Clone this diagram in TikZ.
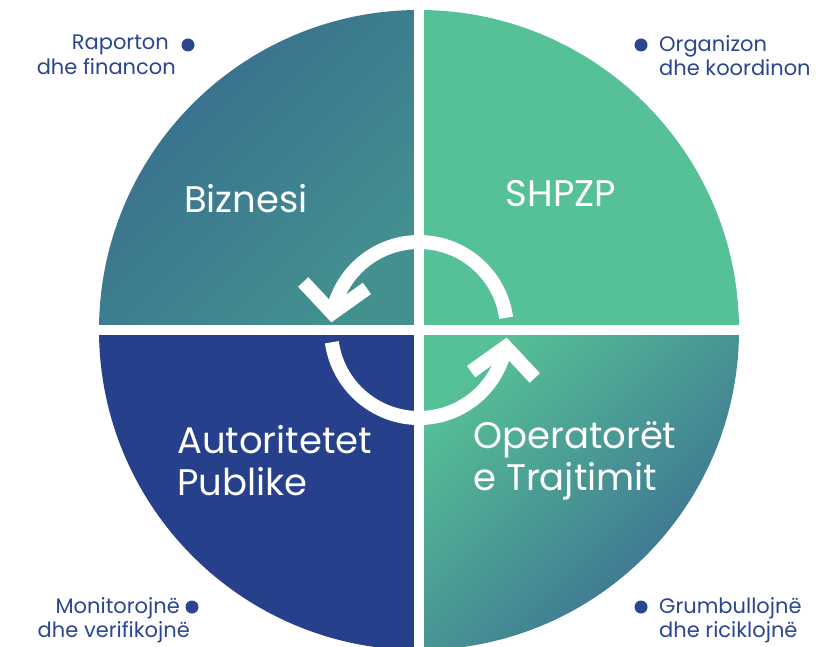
\documentclass[tikz,border=0pt]{standalone}
\usepackage{fontspec}
\setmainfont{Poppins}
\usetikzlibrary{arrows.meta,bending,positioning}
\definecolor{bizA}{HTML}{386B8E}
\definecolor{bizB}{HTML}{43918F}
\definecolor{shpzp}{HTML}{56C096}
\definecolor{autor}{HTML}{27408C}
\definecolor{opeA}{HTML}{56C096}
\definecolor{opeB}{HTML}{3A6A92}
\definecolor{rolecol}{HTML}{2A4592}

\begin{document}
\begin{tikzpicture}[x=1pt,y=-1pt]
             \tikzstyle{title} = [text=white,font=\fontsize{37}{42}\selectfont,align=left,inner sep=0pt]
             \tikzstyle{role} = [text=rolecol,font=\fontsize{21}{24.5}\selectfont,inner sep=0pt]
             \tikzstyle{dot} = [fill=rolecol,shape=circle,minimum size=13pt,inner sep=0pt]
             \tikzstyle{ring} = [white,line width=14pt,-{Straight Barb[length=28pt,width=64pt,flex]}]
             \tikzstyle{cross} = [white,line width=10pt]
		\clip (0,0) rectangle (821,647);
		\coordinate (c) at (419,330);
		% Quadrants
		\shade[top color=bizA,bottom color=bizB,shading angle=45] (c) -- ++(-320,0) arc[start angle=180,end angle=270,radius=320] -- cycle;
		\fill[shpzp] (c) -- ++(0,-320) arc[start angle=270,end angle=360,radius=320] -- cycle;
		\shade[top color=opeA,bottom color=opeB,shading angle=45] (c) -- ++(320,0) arc[start angle=0,end angle=90,radius=320] -- cycle;
		\fill[autor] (c) -- ++(0,320) arc[start angle=90,end angle=180,radius=320] -- cycle;
		% Cross
		\coordinate (n) at (419,0);
		\coordinate (s) at (419,660);
		\coordinate (w) at (90,330);
		\coordinate (e) at (750,330);
		\draw[cross] (n) -- (s);
		\draw[cross] (w) -- (e);
		% Cycle
		\draw[ring] (c) ++(-8:88) arc[start angle=-8,end angle=-175,radius=88];
		\draw[ring] (c) ++(172:88) arc[start angle=172,end angle=5,radius=88];
		% Titles
		\node[title] (biz) at (246,199) {Biznesi};
		\node[title] (shp) at (561,194) {SHPZP};
		\node[title,anchor=west] (aut) at (177,461) {Autoritetet\\Publike};
		\node[title,anchor=west] (ope) at (473,461) {Operatorët\\e Trajtimit};
		% Roles
		\node[dot] (d1) at (188,45) {};
		\node[role,anchor=north east,align=right] (r1) at (176,35) {Raporton\kern7pt\\dhe financon};
		\node[dot] (d2) at (641,45) {};
		\node[role,anchor=north west,align=left] (r2) at (659,35) {Organizon\\dhe koordinon};
		\node[dot] (d3) at (192,607) {};
		\node[role,anchor=north east,align=right] (r3) at (190,597) {Monitorojnë\kern10pt\\dhe verifikojnë};
		\node[dot] (d4) at (641,607) {};
		\node[role,anchor=north west,align=left] (r4) at (659,597) {Grumbullojnë\\dhe riciklojnë};
\end{tikzpicture}
\end{document}
